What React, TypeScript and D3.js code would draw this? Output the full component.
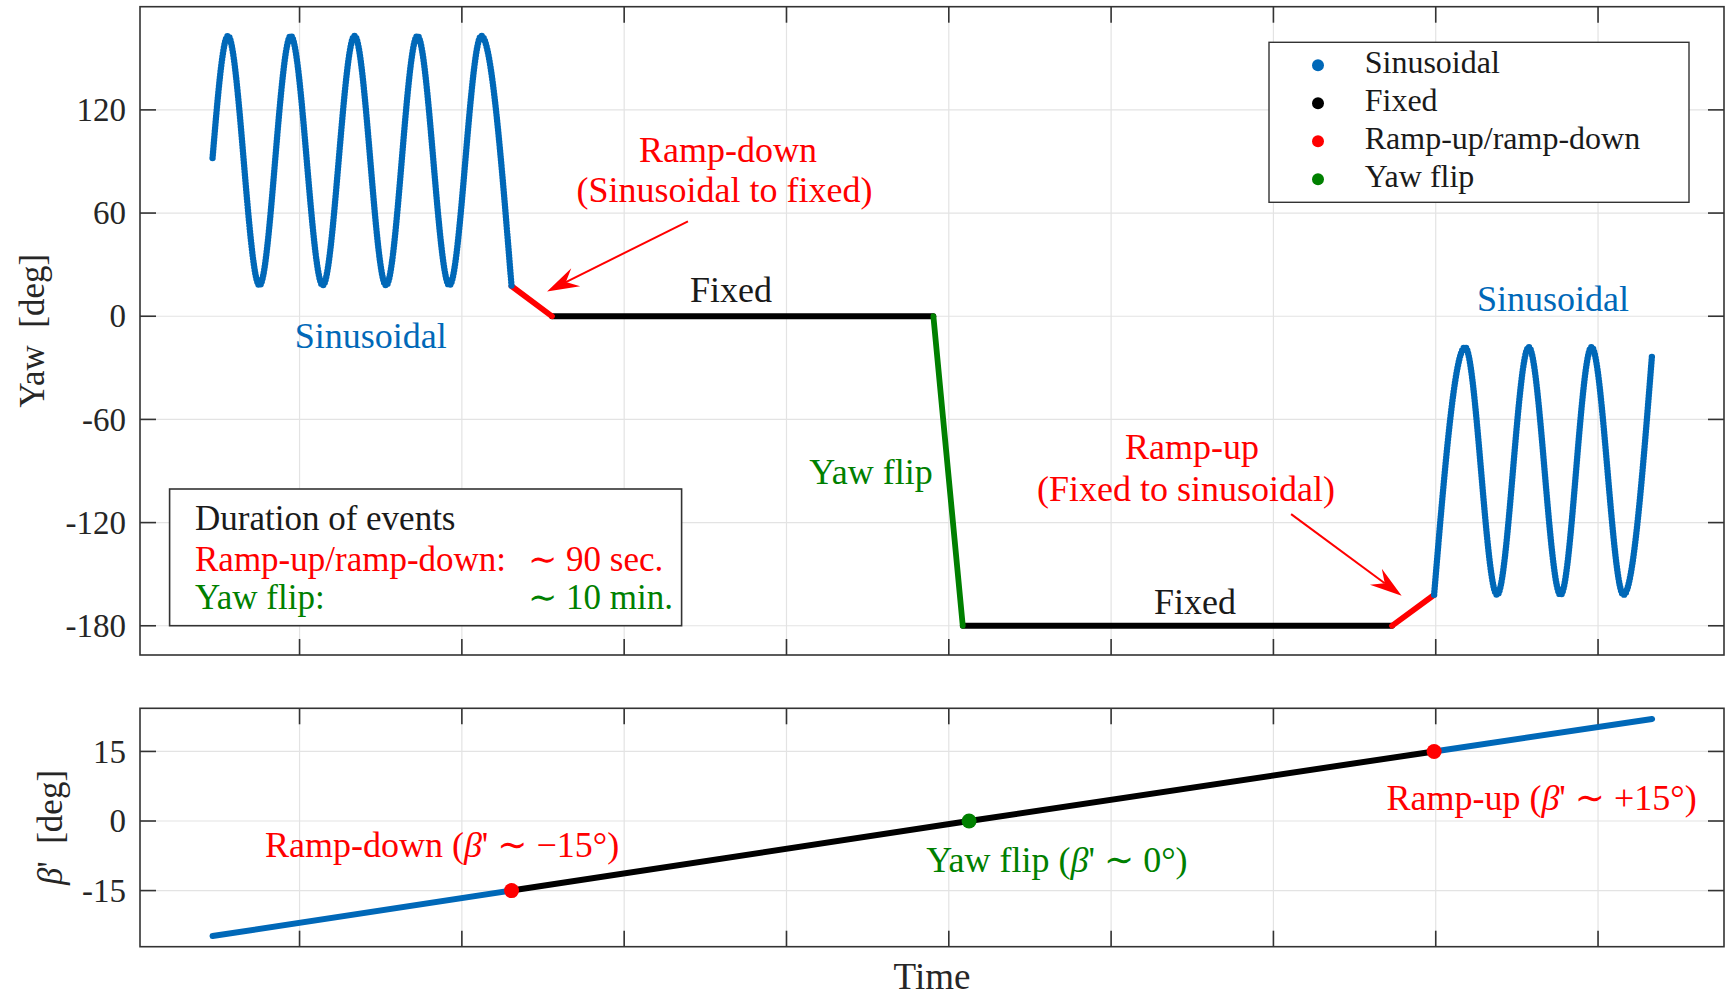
import React, { useEffect, useRef } from 'react';
import * as d3 from 'd3';

const W = 1727;
const H = 998;

const BLUE = '#0068B8';
const RED = '#FF0000';
const GREEN = '#008000';
const BLACK = '#000000';
const AXIS = '#333333';
const GRID = '#e3e3e3';
const FONT = '"Liberation Serif", "DejaVu Serif", serif';

// time axis has ticks but no labels
const timeDomain = [0.017, 9.776];
const timeTicks = [1, 2, 3, 4, 5, 6, 7, 8, 9];

const yawDomain = [-197, 180];
const yawTicks = [-180, -120, -60, 0, 60, 120];
const betaDomain = [-27.1, 24.3];
const betaTicks = [-15, 0, 15];

// yaw profile (sinusoids given by start, peaks, troughs, end)
const sine1Time = [0.464, 0.559, 0.753, 0.946, 1.143, 1.339, 1.533, 1.726, 1.923, 2.12, 2.306];
const sine1Yaw = [92, 163, 18, 163, 18, 163, 18, 163, 18, 163, 17.5];
const rampDownTime = [2.306, 2.555];
const rampDownYaw = [17.5, 0];
const fixed1Time = [2.555, 4.905];
const fixed1Yaw = [0, 0];
const flipTime = [4.905, 5.086];
const flipYaw = [0, -180];
const fixed2Time = [5.086, 7.731];
const fixed2Yaw = [-180, -180];
const rampUpTime = [7.731, 7.99];
const rampUpYaw = [-180, -162];
const sine2Time = [7.99, 8.181, 8.378, 8.573, 8.769, 8.96, 9.157, 9.333];
const sine2Yaw = [-162, -18, -162, -18, -162, -18, -162, -22];

// beta prime
const betaTime = [0.464, 2.306, 5.125, 7.99, 9.333];
const betaVal = [-24.8, -15, 0, 15, 22];
const betaSegColors = [BLUE, BLACK, BLACK, BLUE];
const eventTime = [2.306, 5.125, 7.99];
const eventBeta = [-15, 0, 15];
const eventColors = [RED, GREEN, RED];

const legendLabels = ['Sinusoidal', 'Fixed', 'Ramp-up/ramp-down', 'Yaw flip'];
const legendColors = [BLUE, BLACK, RED, GREEN];

const App = () => {
  const ref = useRef<SVGSVGElement | null>(null);

  useEffect(() => {
    if (!ref.current) return;
    const svg = d3.select(ref.current);
    svg.selectAll('*').remove();

    const left = 140, right = 1724;
    const top1 = 6.7, bottom1 = 655;
    const top2 = 708.3, bottom2 = 946.7;
    const tickLen = 16;

    const x = d3.scaleLinear().domain(timeDomain).range([left, right]);
    const yYaw = d3.scaleLinear().domain(yawDomain).range([bottom1, top1]);
    const yBeta = d3.scaleLinear().domain(betaDomain).range([bottom2, top2]);

    svg.append('rect').attr('width', W).attr('height', H).attr('fill', '#fff');

    const grid = (y, ticks, t, b) => {
      const g = svg.append('g');
      g.selectAll('line.gx').data(timeTicks).join('line').attr('class', 'gx')
        .attr('x1', d => x(d)).attr('x2', d => x(d)).attr('y1', t).attr('y2', b)
        .attr('stroke', GRID).attr('stroke-width', 1.2);
      g.selectAll('line.gy').data(ticks).join('line').attr('class', 'gy')
        .attr('x1', left).attr('x2', right).attr('y1', d => y(d)).attr('y2', d => y(d))
        .attr('stroke', GRID).attr('stroke-width', 1.2);
    };

    const frame = (y, ticks, t, b) => {
      const g = svg.append('g').attr('stroke', AXIS).attr('stroke-width', 1.6);
      g.selectAll('line.tb').data(timeTicks).join('line').attr('class', 'tb')
        .attr('x1', d => x(d)).attr('x2', d => x(d)).attr('y1', b).attr('y2', b - tickLen);
      g.selectAll('line.tt').data(timeTicks).join('line').attr('class', 'tt')
        .attr('x1', d => x(d)).attr('x2', d => x(d)).attr('y1', t).attr('y2', t + tickLen);
      g.selectAll('line.tl').data(ticks).join('line').attr('class', 'tl')
        .attr('x1', left).attr('x2', left + tickLen).attr('y1', d => y(d)).attr('y2', d => y(d));
      g.selectAll('line.tr').data(ticks).join('line').attr('class', 'tr')
        .attr('x1', right - tickLen).attr('x2', right).attr('y1', d => y(d)).attr('y2', d => y(d));
      g.append('rect').attr('x', left).attr('y', t).attr('width', right - left).attr('height', b - t)
        .attr('fill', 'none');
      svg.append('g').selectAll('text').data(ticks).join('text')
        .attr('x', left - 14).attr('y', d => y(d)).attr('dy', '0.34em')
        .attr('text-anchor', 'end').attr('font-family', FONT).attr('font-size', 33)
        .attr('fill', '#262626').text(d => String(d));
    };

    grid(yYaw, yawTicks, top1, bottom1);
    grid(yBeta, betaTicks, top2, bottom2);

    // ---- top panel: yaw ----
    const sineLine = d3.line<[number, number]>()
      .x(d => x(d[0])).y(d => yYaw(d[1])).curve(d3.curveMonotoneX);
    const straight = d3.line<[number, number]>().x(d => x(d[0])).y(d => yYaw(d[1]));

    const segs = [
      [fixed1Time, fixed1Yaw, BLACK],
      [fixed2Time, fixed2Yaw, BLACK],
      [rampDownTime, rampDownYaw, RED],
      [rampUpTime, rampUpYaw, RED],
      [flipTime, flipYaw, GREEN],
    ];
    segs.forEach(([tt, vv, c]) => {
      svg.append('path').attr('d', straight(d3.zip(tt as number[], vv as number[]) as any))
        .attr('fill', 'none').attr('stroke', c as string).attr('stroke-width', 5.8)
        .attr('stroke-linecap', 'round');
    });
    [[sine1Time, sine1Yaw], [sine2Time, sine2Yaw]].forEach(([tt, vv]) => {
      svg.append('path').attr('d', sineLine(d3.zip(tt, vv) as any))
        .attr('fill', 'none').attr('stroke', BLUE).attr('stroke-width', 6.4)
        .attr('stroke-linecap', 'round').attr('stroke-dasharray', '0 3');
    });

    // arrows (vback2 style heads)
    const arrow = (t0, v0, t1, v1) => {
      const x0 = x(t0), y0 = yYaw(v0), x1 = x(t1), y1 = yYaw(v1);
      const len = Math.hypot(x1 - x0, y1 - y0);
      const ux = (x1 - x0) / len, uy = (y1 - y0) / len;
      const L = 32, N = 21, hw = 10;
      const bx = x1 - ux * L, by = y1 - uy * L;
      const nx = x1 - ux * N, ny = y1 - uy * N;
      svg.append('line').attr('x1', x0).attr('y1', y0).attr('x2', nx).attr('y2', ny)
        .attr('stroke', RED).attr('stroke-width', 2);
      svg.append('path')
        .attr('d', `M${x1},${y1}L${bx - uy * hw},${by + ux * hw}L${nx},${ny}L${bx + uy * hw},${by - ux * hw}Z`)
        .attr('fill', RED);
    };
    arrow(3.393, 55.2, 2.525, 14.4);
    arrow(7.109, -115.1, 7.79, -162.5);

    const label = (t, v, txt, color, size = 36, y = yYaw) => {
      svg.append('text').attr('x', x(t)).attr('y', y(v)).attr('text-anchor', 'middle')
        .attr('font-family', FONT).attr('font-size', size).attr('fill', color).text(txt);
    };
    label(3.64, 89.4, 'Ramp-down', RED);
    label(3.618, 66.5, '(Sinusoidal to fixed)', RED);
    label(3.658, 8.3, 'Fixed', '#1a1a1a');
    label(1.439, -18.2, 'Sinusoidal', BLUE);
    label(4.521, -97.7, 'Yaw flip', GREEN);
    label(6.499, -83.2, 'Ramp-up', RED);
    label(6.462, -107.4, '(Fixed to sinusoidal)', RED);
    label(6.517, -173.3, 'Fixed', '#1a1a1a');
    label(8.723, 3.1, 'Sinusoidal', BLUE);

    // legend
    const lg = svg.append('g');
    lg.append('rect').attr('x', 1269).attr('y', 42.3).attr('width', 420).attr('height', 160)
      .attr('fill', '#fff').attr('stroke', AXIS).attr('stroke-width', 1.4);
    legendLabels.forEach((s, i) => {
      lg.append('circle').attr('cx', 1318).attr('cy', 65.3 + i * 38).attr('r', 6)
        .attr('fill', legendColors[i]);
      lg.append('text').attr('x', 1364.7).attr('y', 73 + i * 38)
        .attr('font-family', FONT).attr('font-size', 32).attr('fill', '#1a1a1a').text(s);
    });

    // duration box
    const db = svg.append('g').attr('font-family', FONT).attr('font-size', 35);
    db.append('rect').attr('x', 169.6).attr('y', 489).attr('width', 512).attr('height', 136.7)
      .attr('fill', '#fff').attr('stroke', AXIS).attr('stroke-width', 1.6);
    db.append('text').attr('x', 195).attr('y', 529.5).attr('fill', '#1a1a1a').text('Duration of events');
    db.append('text').attr('x', 195).attr('y', 570.5).attr('fill', RED).text('Ramp-up/ramp-down:');
    db.append('text').attr('x', 528).attr('y', 570.5).attr('fill', RED).text('∼ 90 sec.');
    db.append('text').attr('x', 195).attr('y', 609).attr('fill', GREEN).text('Yaw flip:');
    db.append('text').attr('x', 528).attr('y', 609).attr('fill', GREEN).text('∼ 10 min.');

    // ---- bottom panel: beta prime ----
    const betaLine = d3.line<[number, number]>().x(d => x(d[0])).y(d => yBeta(d[1]));
    betaSegColors.forEach((c, i) => {
      svg.append('path')
        .attr('d', betaLine([[betaTime[i], betaVal[i]], [betaTime[i + 1], betaVal[i + 1]]]))
        .attr('fill', 'none').attr('stroke', c).attr('stroke-width', 6)
        .attr('stroke-linecap', 'round');
    });
    eventTime.forEach((t, i) => {
      svg.append('circle').attr('cx', x(t)).attr('cy', yBeta(eventBeta[i])).attr('r', 7.5)
        .attr('fill', eventColors[i]);
    });

    const betaLabel = (t, v, pre, post, color) => {
      const el = svg.append('text').attr('x', x(t)).attr('y', yBeta(v)).attr('text-anchor', 'middle')
        .attr('font-family', FONT).attr('font-size', 36).attr('fill', color);
      el.append('tspan').text(pre + ' (');
      el.append('tspan').attr('font-style', 'italic').text('β');
      el.append('tspan').text(`' ∼ ${post})`);
    };
    betaLabel(1.878, -7.7, 'Ramp-down', '−15°', RED);
    betaLabel(5.666, -10.9, 'Yaw flip', '0°', GREEN);
    betaLabel(8.652, 2.4, 'Ramp-up', '+15°', RED);

    frame(yYaw, yawTicks, top1, bottom1);
    frame(yBeta, betaTicks, top2, bottom2);

    // axis labels
    svg.append('text').attr('transform', `translate(44,${(top1 + bottom1) / 2}) rotate(-90)`)
      .attr('text-anchor', 'middle').attr('font-family', FONT).attr('font-size', 35)
      .attr('fill', '#262626').text('Yaw\u00a0 [deg]');
    const bl = svg.append('text').attr('transform', `translate(62,${(top2 + bottom2) / 2}) rotate(-90)`)
      .attr('text-anchor', 'middle').attr('font-family', FONT).attr('font-size', 35)
      .attr('fill', '#262626');
    bl.append('tspan').attr('font-style', 'italic').text('β');
    bl.append('tspan').text("'\u00a0 [deg]");
    svg.append('text').attr('x', (left + right) / 2).attr('y', 989).attr('text-anchor', 'middle')
      .attr('font-family', FONT).attr('font-size', 37).attr('fill', '#262626').text('Time');
  }, []);

  return (
    <svg ref={ref} width={W} height={H}
      style={{ position: 'absolute', left: 0, top: 0, display: 'block' }} />
  );
};

export default App;
